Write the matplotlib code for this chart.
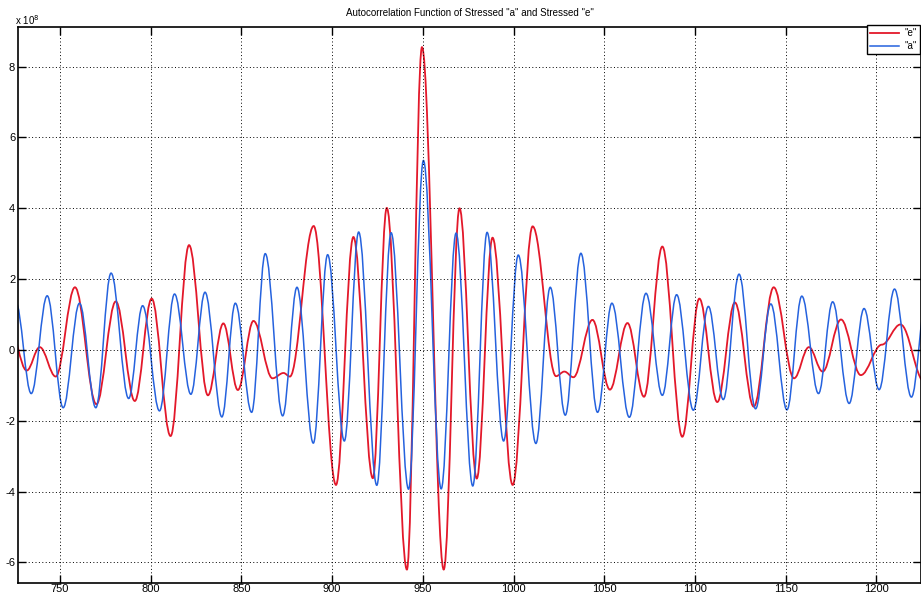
import matplotlib
matplotlib.use("Agg")
import matplotlib.pyplot as plt
from matplotlib.path import Path
from matplotlib.patches import PathPatch
from matplotlib.lines import Line2D

# peaks and troughs, lag on x, value in units of 1e8
e_lag = [721.5, 731.6, 738.8, 747.6, 758.2, 770.0, 780.7, 791.2, 800.5, 810.9,
         821.1, 831.5, 840.0, 848.0, 856.6, 867.1, 873.2, 876.7, 889.8, 902.1,
         911.7, 922.4, 930.1, 941.2, 949.5, 961.5, 970.2, 979.7, 988.4, 999.5,
         1010.5, 1023.4, 1028.0, 1033.0, 1043.5, 1053.1, 1062.8, 1071.9, 1082.0, 1093.0,
         1102.4, 1112.3, 1122.0, 1132.4, 1143.4, 1154.6, 1162.8, 1170.4, 1180.5, 1191.4,
         1203.0, 1213.3, 1226.5]
e_val = [0.8, -0.58, 0.08, -0.75, 1.77, -1.53, 1.37, -1.44, 1.45, -2.43,
         2.96, -1.28, 0.75, -1.13, 0.82, -0.80, -0.65, -0.75, 3.50, -3.81,
         3.19, -3.62, 4.01, -6.2, 8.55, -6.2, 4.0, -3.63, 3.17, -3.81,
         3.49, -0.74, -0.61, -0.77, 0.85, -1.12, 0.76, -1.32, 2.92, -2.45,
         1.45, -1.47, 1.34, -1.6, 1.77, -0.80, 0.08, -0.61, 0.86, -0.71,
         0.15, 0.72, -0.9]

a_lag = [725.5, 734.1, 742.9, 751.7, 760.7, 769.7, 778.1, 787.8, 795.5, 804.8,
         813.1, 822.1, 829.9, 839.2, 846.6, 855.6, 863.1, 872.7, 880.6, 889.6,
         897.5, 906.7, 914.6, 924.6, 932.5, 942.1, 950.3, 960.1, 968.3, 977.5,
         985.4, 994.5, 1002.6, 1012.3, 1020.2, 1028.5, 1037.1, 1046.3, 1054.2, 1063.8,
         1073.0, 1082.0, 1089.9, 1099.1, 1107.4, 1115.6, 1124.3, 1133.4, 1141.8, 1150.7,
         1158.9, 1168.1, 1175.9, 1185.0, 1193.2, 1201.5, 1210.0, 1219.3, 1227.5]
a_val = [1.36, -1.23, 1.53, -1.63, 1.32, -1.63, 2.17, -1.37, 1.25, -1.72,
         1.58, -1.25, 1.63, -1.89, 1.32, -1.76, 2.72, -1.86, 1.77, -2.63,
         2.69, -2.57, 3.33, -3.82, 3.31, -3.93, 5.35, -3.92, 3.30, -3.84,
         3.32, -2.57, 2.68, -2.64, 1.77, -1.84, 2.73, -1.76, 1.32, -1.90,
         1.60, -1.28, 1.56, -1.70, 1.23, -1.40, 2.14, -1.66, 1.30, -1.69,
         1.52, -1.23, 1.36, -1.51, 1.17, -1.12, 1.72, -1.33, 1.4]

x_ticks = [750, 800, 850, 900, 950, 1000, 1050, 1100, 1150, 1200]
y_ticks = [-6, -4, -2, 0, 2, 4, 6, 8]

RED = "#e3182a"
BLUE = "#2562de"


def smooth_path(xs, ys, k=0.364):
    # cubic segments with flat tangents at every peak/trough
    verts = [(xs[0], ys[0])]
    codes = [Path.MOVETO]
    for i in range(1, len(xs)):
        h = xs[i] - xs[i - 1]
        verts += [(xs[i - 1] + k * h, ys[i - 1]), (xs[i] - k * h, ys[i]), (xs[i], ys[i])]
        codes += [Path.CURVE4] * 3
    return Path(verts, codes)


plt.rcParams["font.family"] = ["Liberation Sans", "DejaVu Sans"]
plt.rcParams["axes.unicode_minus"] = False

fig = plt.figure(figsize=(9.21, 5.94), dpi=100)
ax = fig.add_axes([18 / 921, 11 / 594, 903 / 921, 556 / 594])

ax.add_patch(PathPatch(smooth_path(e_lag, e_val), fill=False, edgecolor=RED, lw=1.3))
ax.add_patch(PathPatch(smooth_path(a_lag, a_val), fill=False, edgecolor=BLUE, lw=1.1))

ax.set_xlim(726.8, 1224.6)
ax.set_ylim(-6.58, 9.12)
ax.set_xticks(x_ticks)
ax.set_yticks(y_ticks)
ax.tick_params(direction="in", length=6, width=1, top=True, right=True,
               labelsize=8, pad=2)
ax.tick_params(axis="x", pad=1)
ax.grid(True, color="black", linestyle=(0, (1, 2.5)), linewidth=0.7)
for s in ax.spines.values():
    s.set_linewidth(1.2)

handles = [Line2D([], [], color=RED, lw=1.3), Line2D([], [], color=BLUE, lw=1.1)]
leg = ax.legend(handles, ['"e"', '"a"'], loc="upper right", bbox_to_anchor=(0.999, 1.004),
                borderaxespad=0, fontsize=7, handlelength=3.0, handletextpad=0.5,
                borderpad=0.35, labelspacing=0.3, fancybox=False, framealpha=1)
leg.get_frame().set_edgecolor("black")
leg.get_frame().set_linewidth(1.0)

fig.text(470 / 921, 1 - 13 / 594, 'Autocorrelation Function of Stressed "a" and Stressed "e"',
         ha="center", va="center", fontsize=7)
fig.text(15 / 921, 1 - 20 / 594, r"x 10$^8$", ha="left", va="center", fontsize=7)

fig.savefig("out.png", dpi=100)
